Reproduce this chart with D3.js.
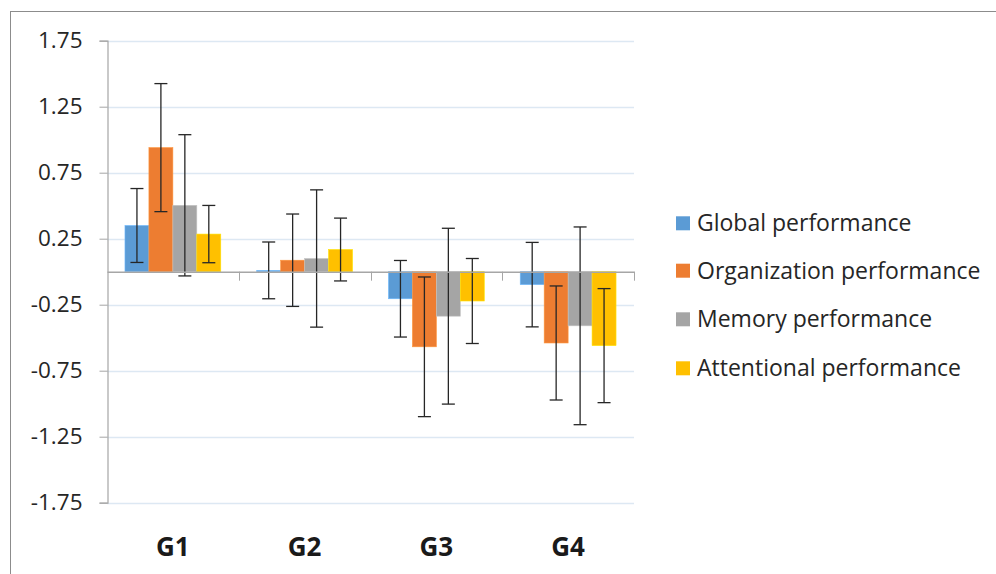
<!DOCTYPE html>
<html><head><meta charset="utf-8">
<script src="https://cdn.jsdelivr.net/npm/d3@7"></script>
<style>body{margin:0;background:#fff;} svg{display:block;}</style>
</head><body>
<svg id="chart" width="996" height="574"></svg>
<script>
const categories = ["G1","G2","G3","G4"];
const seriesNames = ["Global performance","Organization performance","Memory performance","Attentional performance"];
const seriesColors = ["#5b9bd5","#ed7d31","#a5a5a5","#ffc000"];
const globalVals = [0.35, 0.01, -0.205, -0.098];
const globalErr = [0.28, 0.215, 0.29, 0.32];
const organizationVals = [0.94, 0.087, -0.569, -0.54];
const organizationErr = [0.485, 0.35, 0.529, 0.432];
const memoryVals = [0.503, 0.1, -0.337, -0.41];
const memoryErr = [0.535, 0.52, 0.666, 0.749];
const attentionalVals = [0.285, 0.168, -0.222, -0.56];
const attentionalErr = [0.217, 0.238, 0.322, 0.432];
const yTicks = [1.75, 1.25, 0.75, 0.25, -0.25, -0.75, -1.25, -1.75];

const seriesVals = [globalVals, organizationVals, memoryVals, attentionalVals];
const seriesErr = [globalErr, organizationErr, memoryErr, attentionalErr];

const svg = d3.select("#chart");
const font = "'Open Sans', sans-serif";

// outer frame
svg.append("rect").attr("x",10.5).attr("y",11.5).attr("width",1000).attr("height",600)
  .attr("fill","none").attr("stroke","#8c8c8c").attr("stroke-width",1);

const plotL = 107, plotR = 634;
const y = d3.scaleLinear().domain([-1.75, 1.75]).range([502.7, 40.7]);
const x0 = d3.scaleBand().domain(categories).range([plotL, plotR]).paddingInner(0).paddingOuter(0);
const barW = x0.bandwidth() / (4 + 1.5);
const x1 = d3.scaleBand().domain(d3.range(4)).range([barW*0.75, barW*4.75]);

// gridlines
svg.append("g").selectAll("line").data(yTicks).join("line")
  .attr("x1", plotL).attr("x2", plotR)
  .attr("y1", d => Math.round(y(d))+0.5).attr("y2", d => Math.round(y(d))+0.5)
  .attr("stroke","#dde8f3").attr("stroke-width",1.5);

// y axis
const fmt = d => d3.format(".2f")(d).replace("\u2212","-");
const yAxis = d3.axisLeft(y).tickValues(yTicks).tickFormat(fmt).tickSizeOuter(0).tickSize(8).tickPadding(17);
const gy = svg.append("g").attr("transform",`translate(${plotL+0.5},0)`).call(yAxis);
gy.select(".domain").attr("stroke","#a6a6a6").attr("stroke-width",1.2);
gy.selectAll(".tick line").attr("stroke","#a6a6a6");
gy.selectAll(".tick text").attr("fill","#262626").style("font-family",font).style("font-size","22.5px");

// bars
const groups = svg.append("g").selectAll("g").data(categories).join("g")
  .attr("transform", d => `translate(${x0(d)},0)`);
groups.each(function(cat, ci){
  const g = d3.select(this);
  seriesVals.forEach((vals, si) => {
    const v = vals[ci];
    g.append("rect")
      .attr("x", x1(si)).attr("width", x1.bandwidth())
      .attr("y", y(Math.max(0, v))).attr("height", Math.abs(y(v) - y(0)))
      .attr("fill", seriesColors[si])
      .attr("stroke", d3.color(seriesColors[si]).brighter(0.5)).attr("stroke-width",0.6);
  });
});

// x axis (zero line with ticks)
const xAxis = d3.axisBottom(x0).tickSize(0).tickFormat("");
const gx = svg.append("g").attr("transform",`translate(0,${y(0)})`).call(xAxis);
gx.select(".domain").attr("stroke","#a6a6a6").attr("stroke-width",1.5);
const boundaries = categories.map(c => x0(c) + x0.bandwidth());
gx.append("g").selectAll("line").data(boundaries).join("line")
  .attr("x1", d => Math.round(d)+0.5).attr("x2", d => Math.round(d)+0.5)
  .attr("y1", 0).attr("y2", 9).attr("stroke","#a6a6a6").attr("stroke-width",1);

// error bars
groups.each(function(cat, ci){
  const g = d3.select(this);
  seriesVals.forEach((vals, si) => {
    const v = vals[ci], e = seriesErr[si][ci];
    const cx = x1(si) + x1.bandwidth()/2;
    const eg = g.append("g").attr("stroke","#262626").attr("stroke-width",1.3);
    eg.append("line").attr("x1",cx).attr("x2",cx).attr("y1",y(v+e)).attr("y2",y(v-e));
    eg.append("line").attr("x1",cx-6.5).attr("x2",cx+6.5).attr("y1",y(v+e)).attr("y2",y(v+e));
    eg.append("line").attr("x1",cx-6.5).attr("x2",cx+6.5).attr("y1",y(v-e)).attr("y2",y(v-e));
  });
});

// category labels
svg.append("g").selectAll("text").data(categories).join("text")
  .attr("x", d => x0(d) + x0.bandwidth()/2).attr("y", 556)
  .attr("text-anchor","middle").attr("fill","#1a1a1a")
  .style("font-family",font).style("font-weight","bold").style("font-size","26px")
  .text(d => d);

// legend
const legY = [223.3, 270.7, 319.3, 368.3];
const leg = svg.append("g").selectAll("g").data(seriesNames).join("g")
  .attr("transform", (d,i) => `translate(676,${legY[i]})`);
leg.append("rect").attr("x",0).attr("y",-7).attr("width",14).attr("height",14)
  .attr("fill",(d,i)=>seriesColors[i]);
leg.append("text").attr("x",21).attr("y",0).attr("dy","0.35em")
  .attr("fill","#262626").style("font-family",font).style("font-size","23px")
  .text(d=>d);
</script>
</body></html>
